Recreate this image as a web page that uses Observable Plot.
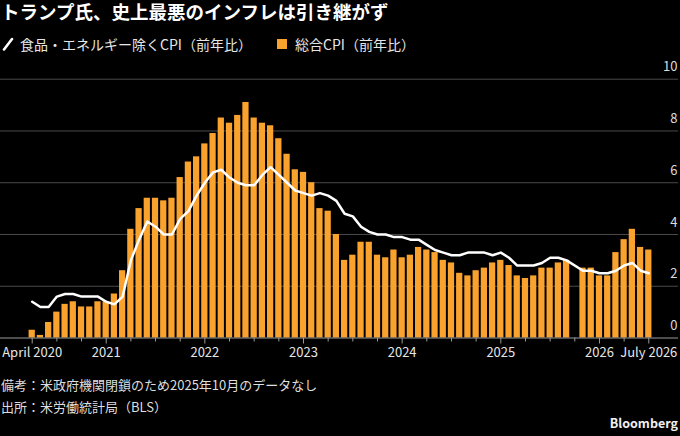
<!DOCTYPE html>
<html><head><meta charset="utf-8">
<script src="https://cdn.jsdelivr.net/npm/d3@7"></script>
<script src="https://cdn.jsdelivr.net/npm/@observablehq/plot@0.6"></script>
<style>
html,body{margin:0;padding:0;background:#000;}
body{width:680px;height:436px;position:relative;overflow:hidden;font-family:"Noto Sans CJK JP","Noto Sans",sans-serif;color:#e6e6e6;}
.abs{position:absolute;white-space:nowrap;}
#title{left:1px;top:1px;font-size:18.5px;font-weight:700;color:#fff;line-height:20px;padding-top:0;}
.leg{top:34px;font-size:14px;line-height:20px;color:#e6e6e6;}
#chart{position:absolute;left:0;top:58px;}
.note{left:1px;font-size:13px;line-height:20px;color:#dedede;}
#brand{right:2px;top:413px;font-size:12.5px;font-weight:700;line-height:20px;color:#f0f0f0;}
</style>
</head><body>
<div id="title" class="abs">トランプ氏、史上最悪のインフレは引き継がず</div>
<svg class="abs" style="left:2px;top:37px" width="12" height="14"><line x1="2" y1="12.5" x2="10" y2="2" stroke="#fff" stroke-width="2.6" stroke-linecap="round"/></svg>
<div class="abs leg" style="left:20px">食品・エネルギー除くCPI（前年比）</div>
<div class="abs" style="left:277px;top:39px;width:10px;height:10px;background:#f9a22e"></div>
<div class="abs leg" style="left:295px">総合CPI（前年比）</div>
<div id="chart"></div>
<div class="abs note" style="top:375px">備考：米政府機関閉鎖のため2025年10月のデータなし</div>
<div class="abs note" style="top:397px">出所：米労働統計局（BLS）</div>
<div id="brand" class="abs">Bloomberg</div>
<script>
// Headline CPI, YoY %, April 2020 .. July 2026 (Oct 2025 missing)
const headline = [0.3,0.1,0.6,1.0,1.3,1.4,1.2,1.2,1.4,
  1.4,1.7,2.6,4.2,5.0,5.4,5.4,5.3,5.4,6.2,6.8,7.0,
  7.5,7.9,8.5,8.3,8.6,9.1,8.5,8.3,8.2,7.7,7.1,6.5,
  6.4,6.0,5.0,4.9,4.0,3.0,3.2,3.7,3.7,3.2,3.1,3.4,
  3.1,3.2,3.5,3.4,3.3,3.0,2.9,2.5,2.4,2.6,2.7,2.9,
  3.0,2.8,2.4,2.3,2.4,2.7,2.7,2.9,3.0,null,2.7,2.7,
  2.4,2.4,3.3,3.8,4.2,3.5,3.4];
// Core CPI (ex food & energy), YoY %
const core = [1.4,1.2,1.2,1.6,1.7,1.7,1.6,1.6,1.6,
  1.4,1.3,1.6,3.0,3.8,4.5,4.3,4.0,4.0,4.6,4.9,5.5,
  6.0,6.4,6.5,6.2,6.0,5.9,5.9,6.3,6.6,6.3,6.0,5.7,
  5.6,5.5,5.6,5.5,5.3,4.8,4.7,4.3,4.1,4.0,4.0,3.9,
  3.9,3.8,3.8,3.6,3.4,3.3,3.2,3.2,3.3,3.3,3.3,3.2,
  3.3,3.1,2.8,2.8,2.8,2.9,3.1,3.1,3.0,null,2.6,2.6,
  2.5,2.5,2.6,2.8,2.9,2.6,2.5];
const tickMonths = ["2020-04","2021-01","2022-01","2023-01","2024-01","2025-01","2026-01","2026-07"];
const tickLabels = ["April 2020","2021","2022","2023","2024","2025","2026","July 2026"];
const yTicks = [0,2,4,6,8,10];

const months = d3.utcMonths(new Date(Date.UTC(2020,3,1)), new Date(Date.UTC(2026,7,1)));
const fmt = d3.utcFormat("%Y-%m");
const data = months.map((d,i)=>({m:i, key:fmt(d), cpi:headline[i], core:core[i]}));
const idxOf = new Map(data.map(d=>[d.key,d.m]));
const majorIdx = tickMonths.map(k=>idxOf.get(k));
const labelOf = new Map(majorIdx.map((m,i)=>[m,tickLabels[i]]));
const minorIdx = data.filter(d=>d.m%3===0 && !labelOf.has(d.m)).map(d=>d.m);
const last = data.length-1;

const H = 310, yZero = 279.5, yTop = 20.7;
const chart = Plot.plot({
  width: 680, height: H,
  marginTop: yTop, marginBottom: H - yZero, marginLeft: 0, marginRight: 2,
  style: {background:"#000", color:"#e6e6e6", fontFamily:'"Noto Sans CJK JP","Noto Sans",sans-serif', fontSize:"13px", overflow:"visible"},
  x: {domain:[0,last], range:[31.7,648.3], label:null},
  y: {domain:[0,10], axis:null, label:null},
  marks: [
    Plot.ruleY(yTicks.filter(v=>v>0), {stroke:"#4a4a4a", strokeWidth:1}),
    Plot.rectY(data.filter(d=>d.cpi!=null), {x1:d=>d.m-0.38, x2:d=>d.m+0.38, y:"cpi", fill:"#f9a22e"}),
    Plot.ruleY([0], {stroke:"#9a9a9a", strokeWidth:1}),
    Plot.axisX({ticks:minorIdx, tickSize:4, tickFormat:()=>"", stroke:"#9a9a9a", label:null}),
    Plot.axisX({ticks:majorIdx, tickSize:6, tickPadding:4, tickFormat:m=>labelOf.get(m), stroke:"#9a9a9a", fill:"#e6e6e6", fontSize:13, label:null}),
    Plot.line(data.filter(d=>d.core!=null), {x:"m", y:"core", stroke:"#fff", strokeWidth:2.5, strokeLinejoin:"round"}),
    Plot.text(yTicks, {y:d=>d, text:d=>String(d), frameAnchor:"right", textAnchor:"end", dx:-1, dy:-12, fill:"#dcdcdc", fontSize:13})
  ]
});
document.getElementById("chart").appendChild(chart);
</script>
</body></html>
